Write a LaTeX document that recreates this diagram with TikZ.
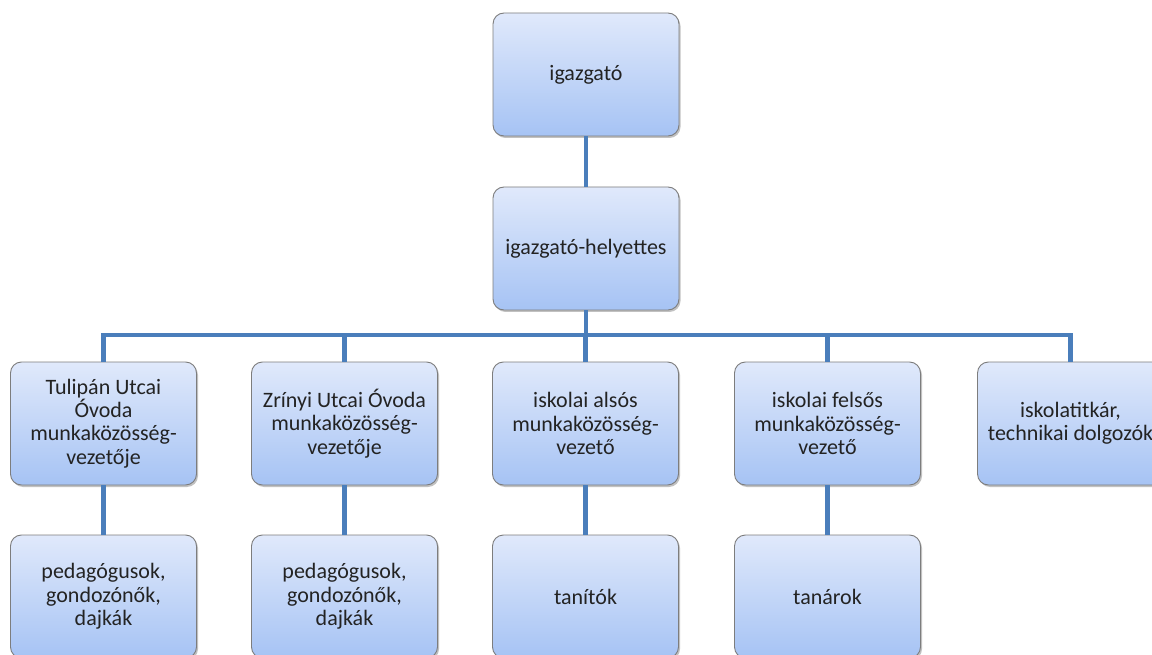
\documentclass[tikz,border=0pt]{standalone}
\usepackage{fontspec}
\setmainfont{Carlito}
\usetikzlibrary{shadows}
\definecolor{topc}{RGB}{224,233,251}
\definecolor{botc}{RGB}{166,195,244}
\definecolor{linec}{RGB}{74,126,187}
\definecolor{bordc}{RGB}{125,125,125}
\definecolor{txtc}{RGB}{35,35,35}
\tikzset{
  box/.style={draw=bordc, line width=0.9pt, rounded corners=11pt,
    top color=topc, bottom color=botc, minimum width=186pt, minimum height=123pt,
    align=center, text=txtc, font=\fontsize{22}{23.3}\selectfont, inner sep=2pt,
    drop shadow={shadow xshift=1.5pt, shadow yshift=-2pt, opacity=0.4, fill=black!60}},
  conn/.style={draw=linec, line width=4.8pt}
}
\begin{document}
\begin{tikzpicture}[x=1pt,y=-1pt]
\useasboundingbox (0,0) rectangle (1152,655);
\clip (0,0) rectangle (1152,655);
\fill[white] (0,0) rectangle (1152,655);
\coordinate (bar) at (586,335);
\node[box] (ig) at (586,74.5) {igazgató};
\node[box] (hp) at (586,248.5) {igazgató-helyettes};
\node[box] (a1) at (103.5,423.5) {Tulipán Utcai\\Óvoda\\munkaközösség-\\vezetője};
\node[box] (a2) at (344.5,423.5) {Zrínyi Utcai Óvoda\\munkaközösség-\\vezetője};
\node[box] (a3) at (585.5,423.5) {iskolai alsós\\munkaközösség-\\vezető};
\node[box] (a4) at (827.5,423.5) {iskolai felsős\\munkaközösség-\\vezető};
\node[box] (a5) at (1070.5,423.5) {iskolatitkár,\\technikai dolgozók};
\node[box] (b1) at (103.5,596.5) {pedagógusok,\\gondozónők,\\dajkák};
\node[box] (b2) at (344.5,596.5) {pedagógusok,\\gondozónők,\\dajkák};
\node[box] (b3) at (585.5,596.5) {tanítók};
\node[box] (b4) at (827.5,596.5) {tanárok};
\begin{scope}[conn]
\draw (ig.south) -- (hp.north);
\draw (hp.south) -- (bar);
\draw (bar) -| (a1.north);
\draw (bar) -| (a2.north);
\draw (bar) -| (a3.north);
\draw (bar) -| (a4.north);
\draw (bar) -| (a5.north);
\draw (a1.south) -- (b1.north);
\draw (a2.south) -- (b2.north);
\draw (a3.south) -- (b3.north);
\draw (a4.south) -- (b4.north);
\end{scope}
\end{tikzpicture}
\end{document}
